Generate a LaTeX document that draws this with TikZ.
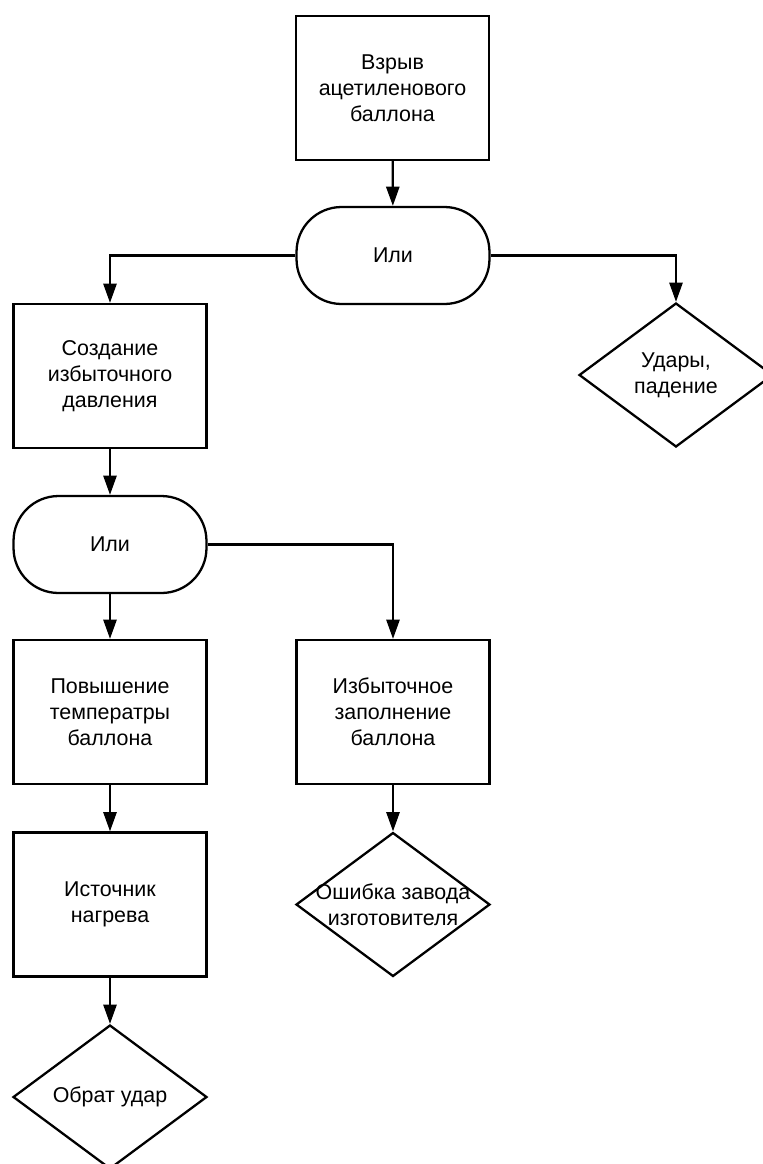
\documentclass[tikz,border=0pt]{standalone}
\usepackage{fontspec}
\setmainfont{Liberation Sans}
\usetikzlibrary{arrows.meta,shapes.geometric}
\tikzset{
	event/.style={draw, line width=1.3pt, rectangle, minimum width=3.86cm, minimum height=2.88cm, align=center, font=\fontsize{12.2}{14.8}\selectfont},
	orgate/.style={draw, line width=1.3pt, rectangle, rounded corners=0.9cm, minimum width=3.86cm, minimum height=1.94cm, align=center, font=\fontsize{12.2}{14.8}\selectfont},
	cause/.style={draw, line width=1.3pt, diamond, minimum width=3.88cm, minimum height=2.88cm, inner sep=0pt},
	causetext/.style={align=center, font=\fontsize{12.2}{14.8}\selectfont},
	arr/.style={line width=1.3pt, -{Triangle[length=11pt,width=7.5pt]}}
}

\begin{document}
\begin{tikzpicture}[x=0.02cm, y=-0.02cm]
		%%%%% START %%%%%
		\useasboundingbox (0, 0) rectangle (763, 1164);
		
		\node[event] (blast) at (392.5, 88) {Взрыв\\ацетиленового\\баллона};
		\node[orgate] (or1) at (393, 255.5) {Или};
		
		\node[cause, label={[causetext]center:Удары,\\падение}] (hits) at (676, 375) {};
		\node[event] (press) at (110, 376) {Создание\\избыточного\\давления};
		
		\node[orgate] (or2) at (110, 544.5) {Или};
		
		\node[event] (heat) at (110, 712) {Повышение\\температры\\баллона};
		\node[event] (overfill) at (393, 712) {Избыточное\\заполнение\\баллона};
		
		\node[event] (source) at (110, 904.5) {Источник\\нагрева};
		\node[cause, label={[causetext]center:Ошибка завода\\изготовителя}] (fault) at (393, 904.5) {};
		
		\node[cause, label={[causetext]center:Обрат удар}] (back) at (110, 1097) {};
		
		\draw[arr] (blast) -- (or1);
		\draw[arr] (or1.west) -| (press.north);
		\draw[arr] (or1.east) -| (hits.north);
		\draw[arr] (press) -- (or2);
		\draw[arr] (or2) -- (heat);
		\draw[arr] (or2.east) -| (overfill.north);
		\draw[arr] (heat) -- (source);
		\draw[arr] (overfill) -- (fault);
		\draw[arr] (source) -- (back);
		
		%%%%% END %%%%%
	\end{tikzpicture}
\end{document}
